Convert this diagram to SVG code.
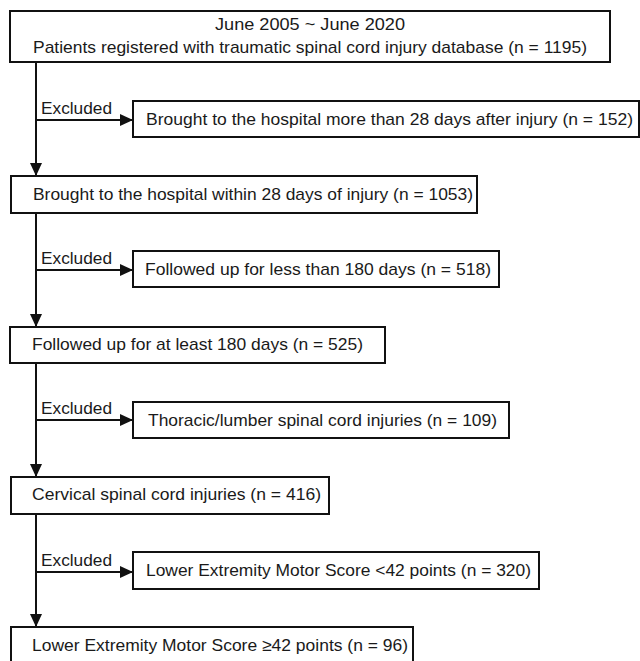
<svg xmlns="http://www.w3.org/2000/svg" width="640" height="661" viewBox="0 0 640 661">
<defs>
<style>
.box{fill:#fff;stroke:#111;stroke-width:2}
.t{font-family:"Liberation Sans",Arial,sans-serif;font-size:17px;fill:#1a1a1a}
.ln{stroke:#111;stroke-width:2;fill:none}
</style>
<marker id="ah" markerWidth="13" markerHeight="12" refX="13" refY="6" orient="auto" markerUnits="userSpaceOnUse">
<path d="M0,0 L13,6 L0,12 Z" fill="#111"/>
</marker>
</defs>
<rect width="640" height="661" fill="#fff"/>
<g id="connectors">
<line class="ln" x1="36" y1="62" x2="36" y2="176" marker-end="url(#ah)"/>
<line class="ln" x1="36" y1="120" x2="133" y2="120" marker-end="url(#ah)"/>
<line class="ln" x1="36" y1="213" x2="36" y2="327" marker-end="url(#ah)"/>
<line class="ln" x1="36" y1="270" x2="133" y2="270" marker-end="url(#ah)"/>
<line class="ln" x1="36" y1="363" x2="36" y2="477" marker-end="url(#ah)"/>
<line class="ln" x1="36" y1="420" x2="133" y2="420" marker-end="url(#ah)"/>
<line class="ln" x1="36" y1="514" x2="36" y2="627" marker-end="url(#ah)"/>
<line class="ln" x1="36" y1="572" x2="133" y2="572" marker-end="url(#ah)"/>
<text class="t" x="41" y="114" textLength="71" lengthAdjust="spacingAndGlyphs">Excluded</text>
<text class="t" x="41" y="264" textLength="71" lengthAdjust="spacingAndGlyphs">Excluded</text>
<text class="t" x="41" y="414" textLength="71" lengthAdjust="spacingAndGlyphs">Excluded</text>
<text class="t" x="41" y="566" textLength="71" lengthAdjust="spacingAndGlyphs">Excluded</text>
</g>
<g id="n1">
<rect class="box" x="10" y="11" width="600" height="51"/>
<text class="t" x="310" y="30" text-anchor="middle" textLength="190" lengthAdjust="spacingAndGlyphs">June 2005 ~ June 2020</text>
<text class="t" x="310" y="53" text-anchor="middle" textLength="554" lengthAdjust="spacingAndGlyphs">Patients registered with traumatic spinal cord injury database (n = 1195)</text>
</g>
<g id="x1">
<rect class="box" x="133" y="101" width="506" height="36"/>
<text class="t" x="146" y="125" textLength="487" lengthAdjust="spacingAndGlyphs">Brought to the hospital more than 28 days after injury (n = 152)</text>
</g>
<g id="n2">
<rect class="box" x="11" y="176" width="466" height="37"/>
<text class="t" x="33" y="200" textLength="440" lengthAdjust="spacingAndGlyphs">Brought to the hospital within 28 days of injury (n = 1053)</text>
</g>
<g id="x2">
<rect class="box" x="133" y="251" width="366" height="36"/>
<text class="t" x="145" y="275" textLength="346" lengthAdjust="spacingAndGlyphs">Followed up for less than 180 days (n = 518)</text>
</g>
<g id="n3">
<rect class="box" x="10" y="327" width="375" height="36"/>
<text class="t" x="32" y="350" textLength="331" lengthAdjust="spacingAndGlyphs">Followed up for at least 180 days (n = 525)</text>
</g>
<g id="x3">
<rect class="box" x="133" y="402" width="376" height="36"/>
<text class="t" x="148" y="426" textLength="349" lengthAdjust="spacingAndGlyphs">Thoracic/lumber spinal cord injuries (n = 109)</text>
</g>
<g id="n4">
<rect class="box" x="11" y="477" width="318" height="37"/>
<text class="t" x="32" y="500" textLength="289" lengthAdjust="spacingAndGlyphs">Cervical spinal cord injuries (n = 416)</text>
</g>
<g id="x4">
<rect class="box" x="133" y="552" width="406" height="37"/>
<text class="t" x="146" y="576" textLength="385" lengthAdjust="spacingAndGlyphs">Lower Extremity Motor Score &lt;42 points (n = 320)</text>
</g>
<g id="n5">
<rect class="box" x="11" y="627" width="402" height="37"/>
<text class="t" x="32" y="651" textLength="376" lengthAdjust="spacingAndGlyphs">Lower Extremity Motor Score ≥42 points (n = 96)</text>
</g>
</svg>
